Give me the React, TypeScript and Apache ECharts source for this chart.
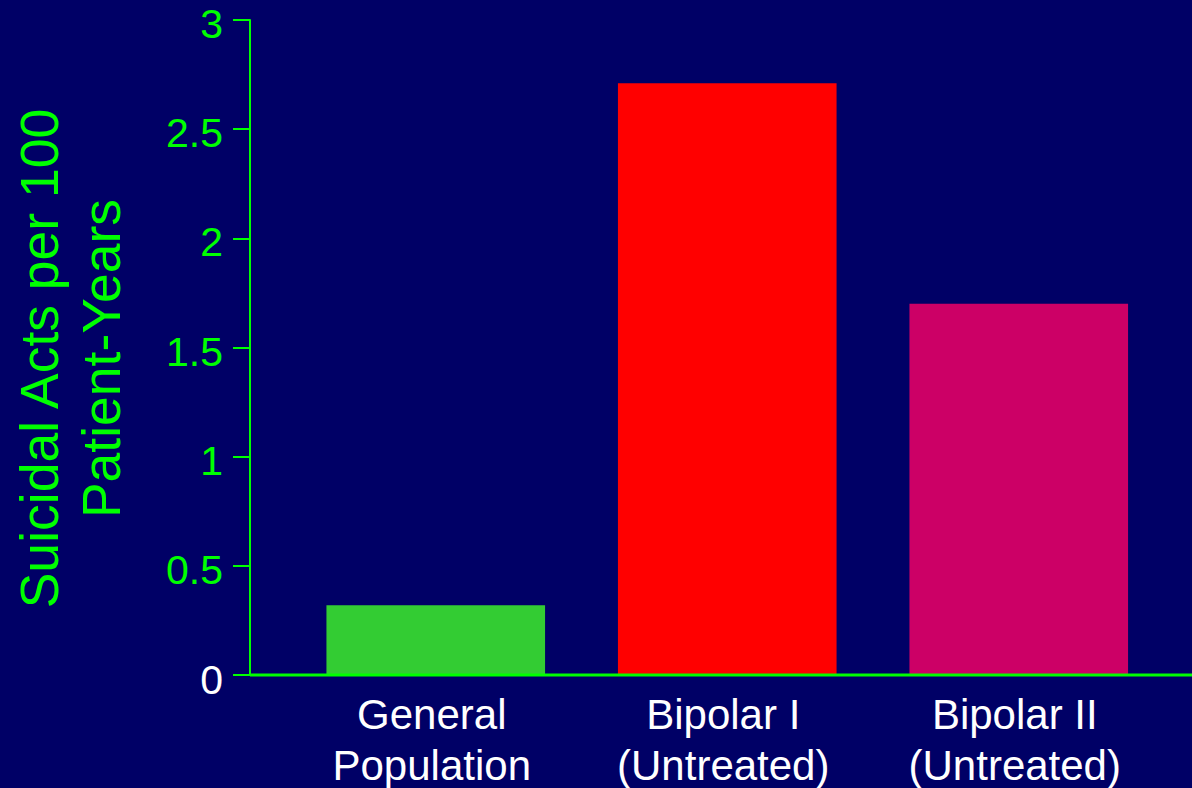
import React, { useEffect, useRef } from "react";
import * as echarts from "echarts";

const categories = ["General\nPopulation", "Bipolar I\n(Untreated)", "Bipolar II\n(Untreated)"];
const values = [0.32, 2.71, 1.7];
const barColors = ["#33CC33", "#FF0000", "#CC0066"];
const yTitle = "Suicidal Acts per 100\nPatient-Years";

const FONT = "'Liberation Sans', Arial, sans-serif";
const GREEN = "#00FF00";

export default function App() {
  const ref = useRef<HTMLDivElement>(null);
  useEffect(() => {
    if (!ref.current) return;
    const chart = echarts.init(ref.current, undefined, { renderer: "svg" });
    chart.setOption({
      animation: false,
      backgroundColor: "#000066",
      textStyle: { fontFamily: FONT },
      grid: {
        left: 290,
        right: 27.5,
        top: 20,
        bottom: 113,
        containLabel: false,
        outerBoundsMode: "none",
      },
      xAxis: {
        type: "category",
        data: categories,
        axisLine: { show: false },
        axisTick: { show: false },
        axisLabel: {
          color: "#FFFFFF",
          fontSize: 42,
          lineHeight: 51,
          margin: 14,
          padding: [0, 8, 0, 0],
          fontFamily: FONT,
        },
      },
      yAxis: {
        type: "value",
        min: 0,
        max: 3,
        interval: 0.5,
        offset: 40,
        name: yTitle,
        nameLocation: "middle",
        nameRotate: 90,
        nameGap: 118,
        nameTextStyle: {
          color: GREEN,
          fontSize: 53.5,
          lineHeight: 62,
          fontFamily: FONT,
          padding: [0, 22, 0, 0],
        },
        axisLine: { show: true, lineStyle: { color: GREEN, width: 2 } },
        axisTick: { show: true, length: 17, lineStyle: { color: GREEN, width: 2 } },
        splitLine: { show: false },
        axisLabel: {
          margin: 27,
          formatter: (v: number) => `{${v === 0 ? "w" : "g"}|${v}}`,
          rich: {
            g: {
              color: GREEN,
              fontSize: 41,
              lineHeight: 30,
              fontFamily: FONT,
              padding: [8, 0, 0, 0],
            },
            w: {
              color: "#FFFFFF",
              fontSize: 41,
              lineHeight: 30,
              fontFamily: FONT,
              padding: [10, 0, 0, 0],
            },
          },
        },
      },
      graphic: [
        {
          type: "line",
          z: 100,
          shape: { x1: 250, y1: 675, x2: 1192, y2: 675 },
          style: { stroke: GREEN, lineWidth: 3 },
        },
      ],
      series: [
        {
          type: "bar",
          barCategoryGap: "25%",
          data: values.map((v, i) => ({ value: v, itemStyle: { color: barColors[i] } })),
        },
      ],
    });
    return () => chart.dispose();
  }, []);
  return (
    <div
      ref={ref}
      style={{ position: "fixed", left: 0, top: 0, width: 1192, height: 788 }}
    />
  );
}
